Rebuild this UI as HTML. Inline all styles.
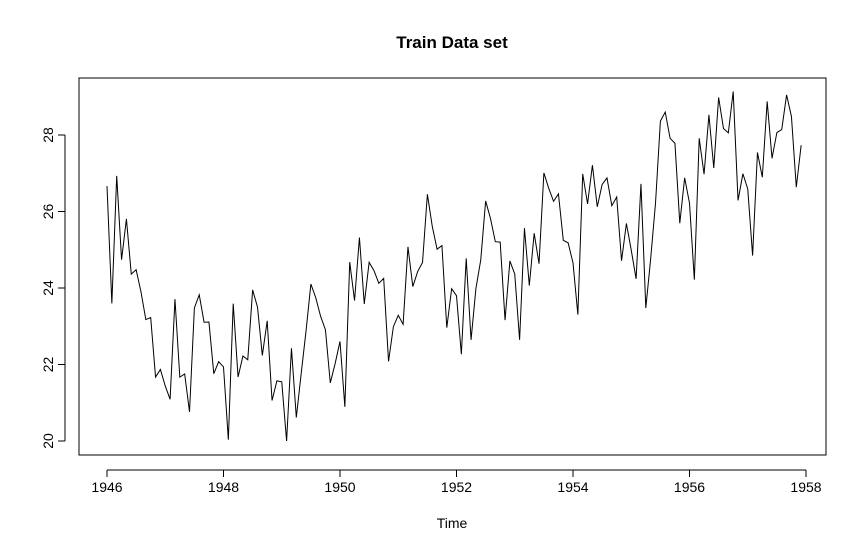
<!DOCTYPE html>
<html><head><meta charset="utf-8"><style>
body{margin:0;background:#fff;}
svg text{font-family:"Liberation Sans",Arial,sans-serif;}
</style></head><body>
<svg id="chart" width="866" height="553" xmlns="http://www.w3.org/2000/svg">
<rect width="866" height="553" fill="#fff"/>
<text x="452" y="48" text-anchor="middle" font-size="17" font-weight="bold">Train Data set</text>
<rect x="79" y="78" width="747" height="377" fill="none" stroke="#000" stroke-width="1"/>
<text x="452" y="528" text-anchor="middle" font-size="14">Time</text>
<g id="xaxis"></g>
<g id="yaxis"></g>
<path id="series" fill="none" stroke="#000" stroke-width="1"/>
</svg>
<script>
const startYear = 1946;
const values = [26.663,23.598,26.931,24.740,25.806,24.364,24.477,23.901,23.175,23.227,21.672,21.870,
21.439,21.089,23.709,21.669,21.752,20.761,23.479,23.824,23.105,23.110,21.759,22.073,
21.937,20.035,23.590,21.672,22.222,22.123,23.950,23.504,22.238,23.142,21.059,21.573,
21.548,20.000,22.424,20.615,21.761,22.874,24.104,23.748,23.262,22.907,21.519,22.025,
22.604,20.894,24.677,23.673,25.320,23.583,24.671,24.454,24.122,24.252,22.084,22.991,
23.287,23.049,25.076,24.037,24.430,24.667,26.451,25.618,25.014,25.110,22.964,23.981,
23.798,22.270,24.775,22.646,23.988,24.737,26.276,25.816,25.210,25.199,23.162,24.707,
24.364,22.644,25.565,24.062,25.431,24.635,27.009,26.606,26.268,26.462,25.246,25.180,
24.657,23.304,26.982,26.199,27.210,26.122,26.706,26.878,26.152,26.379,24.712,25.688,
24.990,24.239,26.721,23.475,24.767,26.219,28.361,28.599,27.914,27.784,25.693,26.881,
26.217,24.218,27.914,26.975,28.527,27.139,28.982,28.169,28.056,29.136,26.291,26.987,
26.589,24.848,27.543,26.896,28.878,27.390,28.065,28.141,29.048,28.484,26.634,27.735];
const xTicks = [1946,1948,1950,1952,1954,1956,1958];
const yTicks = [20,22,24,26,28];
const NS="http://www.w3.org/2000/svg";
function xs(t){return 107+(t-1946)*(806-107)/12;}
function ys(v){return 441-(v-20)*(441-135)/8;}
let d="";
values.forEach((v,i)=>{d+=(i?"L":"M")+xs(startYear+i/12).toFixed(2)+","+ys(v).toFixed(2);});
document.getElementById("series").setAttribute("d",d);
function mk(tag,attrs,parent){const e=document.createElementNS(NS,tag);for(const k in attrs)e.setAttribute(k,attrs[k]);parent.appendChild(e);return e;}
const xa=document.getElementById("xaxis");
mk("line",{x1:xs(xTicks[0]),x2:xs(xTicks[xTicks.length-1]),y1:470,y2:470,stroke:"#000"},xa);
xTicks.forEach(t=>{
 const l=mk("line",{x1:xs(t),x2:xs(t),y1:470,y2:477,stroke:"#000"},xa);
 
 
 const tx=mk("text",{x:xs(t),y:492,"text-anchor":"middle","font-size":"14"},xa);
 tx.textContent=t;
 
 
});
const ya=document.getElementById("yaxis");
mk("line",{x1:65,x2:65,y1:ys(yTicks[0]),y2:ys(yTicks[yTicks.length-1]),stroke:"#000"},ya);
yTicks.forEach(v=>{
 const l=mk("line",{x1:58,x2:65,y1:ys(v),y2:ys(v),stroke:"#000"},ya);
 
 
 const tx=mk("text",{x:53,y:ys(v),"text-anchor":"middle","font-size":"14",transform:"rotate(-90 53 "+ys(v)+")"},ya);
 tx.textContent=v;
 
 
});
</script>
</body></html>
